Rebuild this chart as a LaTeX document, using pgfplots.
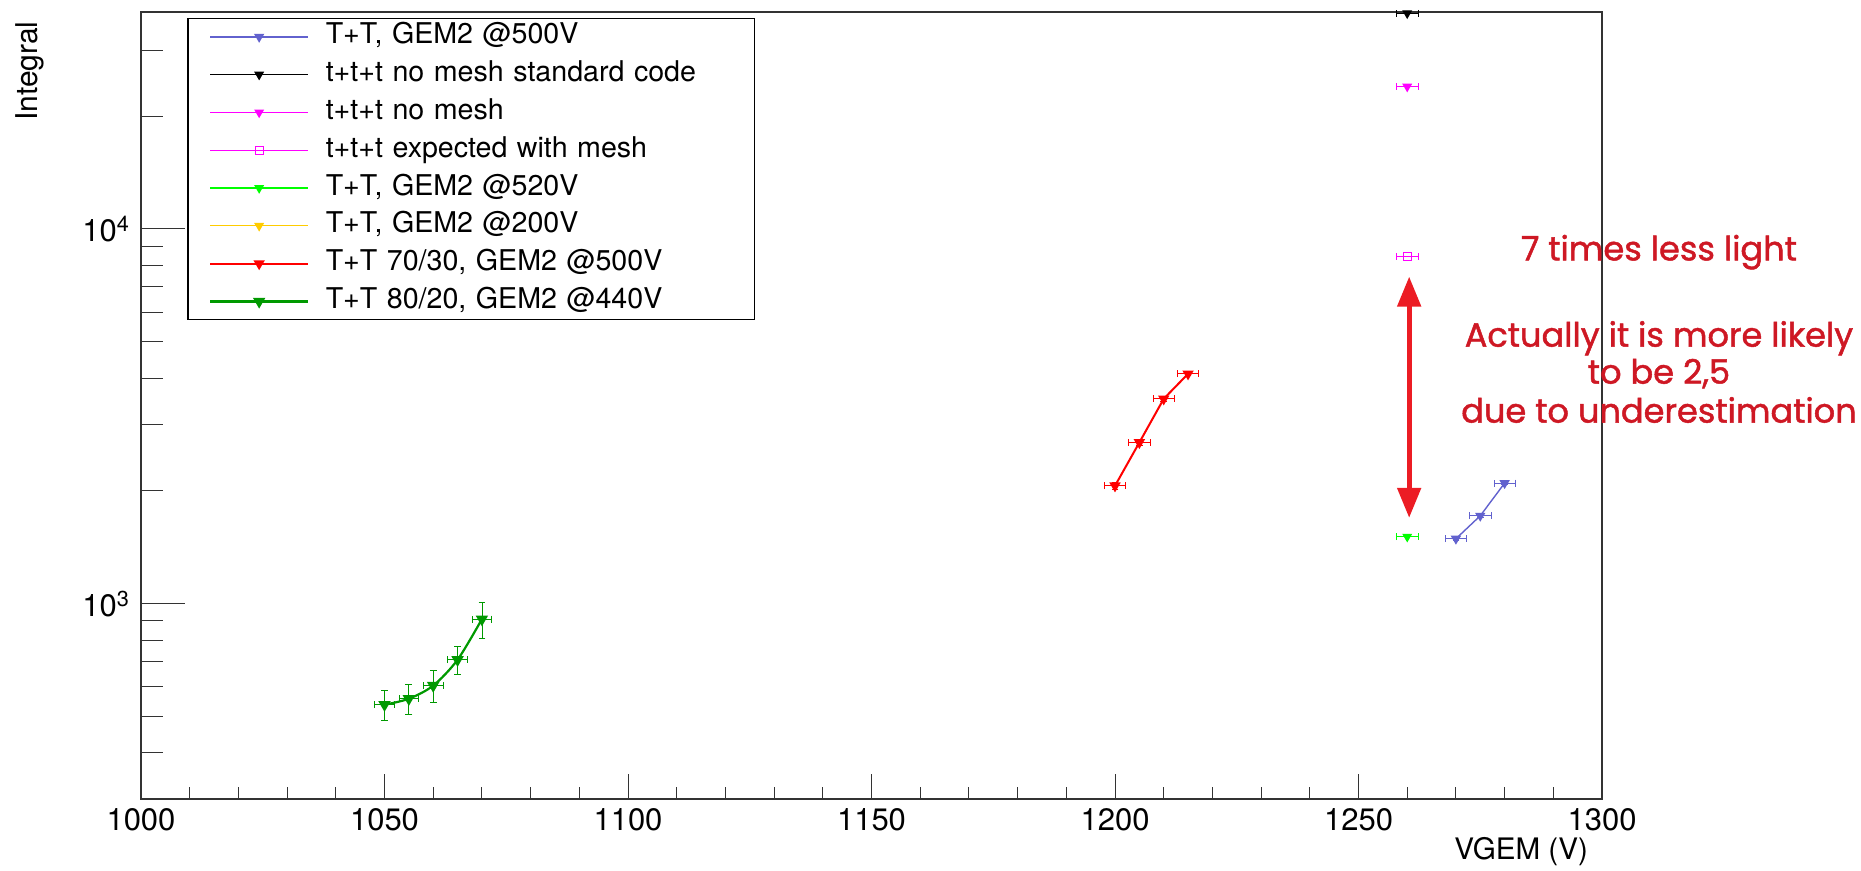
\documentclass[border=0pt]{standalone}
\usepackage{fontspec}
\setmainfont{TeX Gyre Heros}
\newfontfamily\notefont{Poppins}[FakeBold=1.4]
\usepackage{pgfplots}
\usepackage{pgfplotstable}
\pgfplotsset{compat=1.18}
\usetikzlibrary{arrows.meta}

\definecolor{blueC}{RGB}{98,98,206}
\definecolor{magC}{RGB}{255,0,255}
\definecolor{lgreenC}{RGB}{0,255,0}
\definecolor{yellowC}{RGB}{255,204,0}
\definecolor{redC}{RGB}{255,0,0}
\definecolor{dgreenC}{RGB}{0,153,0}
\definecolor{noteC}{RGB}{206,24,36}
\definecolor{arrowC}{RGB}{236,28,36}

% VGEM scans: x, integral, x error, y error
\pgfplotstableread{
x y ex ey
1270 1491 2.2 15
1275 1717 2.2 15
1280 2098 2.2 20
}\tabBlue
\pgfplotstableread{
x y ex ey
1260 37600 2.2 0
}\tabBlack
\pgfplotstableread{
x y ex ey
1260 23970 2.2 0
}\tabMag
\pgfplotstableread{
x y ex ey
1260 8440 2.2 0
}\tabMagExp
\pgfplotstableread{
x y ex ey
1260 1510 2.2 0
}\tabLGreen
\pgfplotstableread{
x y ex ey
1200 2064 2.2 40
1205 2693 2.2 50
1210 3521 2.2 50
1215 4106 2.2 50
}\tabRed
\pgfplotstableread{
x y ex ey
1050 538 2 50
1055 558 2 50
1060 605 2 60
1065 709 2 60
1070 910 2 100
}\tabDGreen

\begin{document}
\begin{tikzpicture}
\begin{axis}[
  at={(0,0)}, anchor=south west,
  scale only axis, width=730.5pt, height=393.5pt,
  xmin=1000, xmax=1300,
  ymode=log, ymin=301.5, ymax=37900,
  clip=false,
  axis line style={black!80, line width=0.6pt},
  xtick={1000,1050,1100,1150,1200,1250,1300},
  xticklabels={1000,1050,1100,1150,1200,1250,1300},
  minor x tick num=4,
  ytick={1000,10000},
  yticklabels={10\textsuperscript{3},10\textsuperscript{4}},
  minor ytick={400,500,600,700,800,900,2000,3000,4000,5000,6000,7000,8000,9000,20000,30000},
  xtick pos=bottom, ytick pos=left, tick align=inside,
  tick style={black!80, line width=0.5pt},
  xtick style={/pgfplots/major tick length=12.5pt, /pgfplots/minor tick length=6pt},
  ytick style={/pgfplots/major tick length=22pt, /pgfplots/minor tick length=11pt},
  ticklabel style={font=\fontsize{15.5}{18}\selectfont},
  yticklabel style={xshift=-2pt},
  xticklabel style={yshift=-1.1pt},
  xlabel={VGEM (V)},
  ylabel={Integral},
  every axis x label/.style={at={(axis description cs:1,0)}, xshift=-3.5pt, yshift=-26.5pt,
    anchor=east, font=\fontsize{14.8}{17}\selectfont},
  every axis y label/.style={at={(axis description cs:-0.076,0.997)}, anchor=east,
    rotate=90, font=\fontsize{15}{18}\selectfont},
  legend style={at={(rel axis cs:0.0318,0.9926)}, anchor=north west,
    draw=black, line width=0.6pt, fill=white,
    font=\fontsize{14.3}{16}\selectfont,
    inner xsep=10.5pt, inner ysep=2.2pt, row sep=4.9pt,
    cells={anchor=west},
    nodes={inner sep=0pt, text width=204pt, text height=10.5pt, text depth=3.5pt},
    /tikz/every odd column/.append style={column sep=8.25pt}},
  legend image code/.code={
    \draw[mark repeat=2, mark phase=2, #1]
      plot coordinates {(0pt,0pt) (24.5pt,0pt) (49pt,0pt)};},
  error bars/error mark options={rotate=90, mark size=1.7pt},
]

\addplot[color=blueC, line width=0.7pt, mark=triangle*,
  mark options={rotate=180, mark size=2.3pt, solid},
  error bars/.cd, x dir=both, x explicit, y dir=both, y explicit]
  table[x=x, y=y, x error=ex, y error=ey] {\tabBlue};
\addlegendentry{T+T, GEM2 @500V}

\addplot[color=black, line width=0.6pt, mark=triangle*,
  mark options={rotate=180, mark size=2.3pt},
  error bars/.cd, x dir=both, x explicit]
  table[x=x, y=y, x error=ex] {\tabBlack};
\addlegendentry{t+t+t no mesh standard code}

\addplot[color=magC, line width=0.6pt, mark=triangle*,
  mark options={rotate=180, mark size=2.3pt},
  error bars/.cd, x dir=both, x explicit]
  table[x=x, y=y, x error=ex] {\tabMag};
\addlegendentry{t+t+t no mesh}

\addplot[color=magC, line width=0.6pt, mark=square,
  mark options={mark size=2pt},
  error bars/.cd, x dir=both, x explicit]
  table[x=x, y=y, x error=ex] {\tabMagExp};
\addlegendentry{t+t+t expected with mesh}

\addplot[color=lgreenC, line width=0.6pt, mark=triangle*,
  mark options={rotate=180, mark size=2.3pt},
  error bars/.cd, x dir=both, x explicit]
  table[x=x, y=y, x error=ex] {\tabLGreen};
\addlegendentry{T+T, GEM2 @520V}

\addlegendimage{color=yellowC, line width=0.6pt, mark=triangle*,
  mark options={rotate=180, mark size=2.3pt}}
\addlegendentry{T+T, GEM2 @200V}

\addplot[color=redC, line width=1pt, mark=triangle*,
  mark options={rotate=180, mark size=2.3pt},
  error bars/.cd, x dir=both, x explicit, y dir=both, y explicit]
  table[x=x, y=y, x error=ex, y error=ey] {\tabRed};
\addlegendentry{T+T 70/30, GEM2 @500V}

\addplot[color=dgreenC, line width=1.1pt, smooth, tension=0.5, mark=triangle*,
  mark options={rotate=180, mark size=2.5pt},
  error bars/.cd, x dir=both, x explicit, y dir=both, y explicit]
  table[x=x, y=y, x error=ex, y error=ey] {\tabDGreen};
\addlegendentry{T+T 80/20, GEM2 @440V}

% annotation: ratio between expected and measured light
\draw[arrowC, line width=2.5pt,
  {Triangle[width=11.5pt,length=15pt]}-{Triangle[width=11.5pt,length=15pt]}]
  (axis cs:1260.4,7462) -- (axis cs:1260.4,1695);

\begin{scope}[every node/.style={text=noteC, font=\notefont\fontsize{16.8}{20}\selectfont,
    text height=0.7em, text depth=0pt, inner sep=0pt, anchor=center}]
\node at (rel axis cs:1.039,0.6932) {7 times less light};
\node at (rel axis cs:1.039,0.5836) {Actually it is more likely};
\node at (rel axis cs:1.039,0.5366) {to be 2,5};
\node at (rel axis cs:1.039,0.4871) {due to underestimation};
\end{scope}
\end{axis}
\pgfresetboundingbox
\useasboundingbox (-70.5pt,-36pt) rectangle (860pt,399.5pt);
\end{tikzpicture}
\end{document}
